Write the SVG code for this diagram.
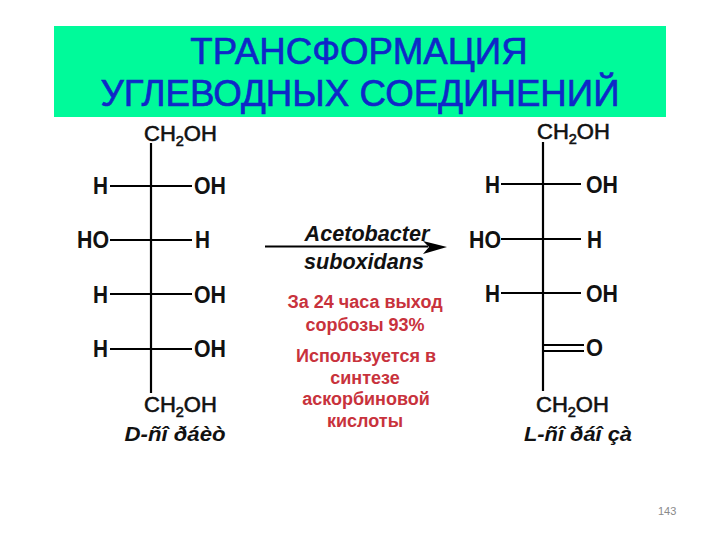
<svg xmlns="http://www.w3.org/2000/svg" width="720" height="540" viewBox="0 0 720 540">
<style>
text{font-family:"Liberation Sans",Arial,sans-serif}
.a{font-size:23px;font-weight:700;fill:#111}
.f{font-size:22px;fill:#111;stroke:#111;stroke-width:.6px}
.s{font-size:14.5px}
.n{font-size:21px;font-weight:700;font-style:italic;fill:#111;text-anchor:middle}
.c{font-size:21.6px;font-weight:700;font-style:italic;fill:#111;text-anchor:middle}
.r{font-size:18px;font-weight:700;fill:#c8323c;text-anchor:middle}
.t{font-size:36.7px;fill:#0f28c8;stroke:#0f28c8;stroke-width:.6px;text-anchor:middle}
line{stroke:#000;stroke-width:2.2}
</style>
<rect width="720" height="540" fill="#fff"/>
<g id="title"><rect x="54" y="26" width="612" height="91" fill="#00fa9a"/>
<text class="t" x="359" y="63.500">ТРАНСФОРМАЦИЯ</text>
<text class="t" x="360" y="105.500">УГЛЕВОДНЫХ СОЕДИНЕНИЙ</text></g>
<g id="connectors">
<line x1="151" y1="143" x2="151" y2="393"/>
<line x1="110" y1="186" x2="192" y2="186"/>
<line x1="110" y1="240" x2="192" y2="240"/>
<line x1="110" y1="294" x2="192" y2="294"/>
<line x1="110" y1="349" x2="192" y2="349"/>
<line x1="543" y1="142" x2="543" y2="391"/>
<line x1="501" y1="184" x2="581" y2="184"/>
<line x1="501" y1="239" x2="581" y2="239"/>
<line x1="501" y1="293" x2="581" y2="293"/>
<line x1="543" y1="345" x2="584" y2="345"/>
<line x1="543" y1="351" x2="584" y2="351"/>
<line x1="265" y1="246.500" x2="428" y2="246.500"/>
<path d="M423 241L447 247L423 254L429 247Z" fill="#000"/>
</g>
<g id="left-molecule">
<text class="f" x="144" y="140.500">CH<tspan class="s" dy="5">2</tspan><tspan dy="-5">OH</tspan></text>
<text class="a" x="93" y="194" textLength="15" lengthAdjust="spacingAndGlyphs">H</text><text class="a" x="194" y="194" textLength="32" lengthAdjust="spacingAndGlyphs">OH</text>
<text class="a" x="77" y="248" textLength="32" lengthAdjust="spacingAndGlyphs">HO</text><text class="a" x="195" y="248" textLength="15" lengthAdjust="spacingAndGlyphs">H</text>
<text class="a" x="93" y="303" textLength="15" lengthAdjust="spacingAndGlyphs">H</text><text class="a" x="194" y="303" textLength="32" lengthAdjust="spacingAndGlyphs">OH</text>
<text class="a" x="93" y="357" textLength="15" lengthAdjust="spacingAndGlyphs">H</text><text class="a" x="194" y="357" textLength="32" lengthAdjust="spacingAndGlyphs">OH</text>
<text class="f" x="144" y="412">CH<tspan class="s" dy="5">2</tspan><tspan dy="-5">OH</tspan></text>
<text class="n" x="175" y="441" textLength="101" lengthAdjust="spacingAndGlyphs">D-ñî ðáèò</text>
</g>
<g id="reaction">
<text class="c" x="367" y="241">Acetobacter</text>
<text class="c" x="364" y="269">suboxidans</text>
<text class="r" x="365" y="308">За 24 часа выход</text>
<text class="r" x="365" y="331">сорбозы 93%</text>
<text class="r" x="366" y="362">Используется в</text>
<text class="r" x="365" y="384">синтезе</text>
<text class="r" x="366" y="405">аскорбиновой</text>
<text class="r" x="365" y="427">кислоты</text>
</g>
<g id="right-molecule">
<text class="f" x="537" y="139">CH<tspan class="s" dy="5">2</tspan><tspan dy="-5">OH</tspan></text>
<text class="a" x="485" y="193" textLength="15" lengthAdjust="spacingAndGlyphs">H</text><text class="a" x="586" y="193" textLength="32" lengthAdjust="spacingAndGlyphs">OH</text>
<text class="a" x="469" y="248" textLength="32" lengthAdjust="spacingAndGlyphs">HO</text><text class="a" x="587" y="248" textLength="15" lengthAdjust="spacingAndGlyphs">H</text>
<text class="a" x="485" y="302" textLength="15" lengthAdjust="spacingAndGlyphs">H</text><text class="a" x="586" y="302" textLength="32" lengthAdjust="spacingAndGlyphs">OH</text>
<text class="a" x="586" y="356" textLength="17" lengthAdjust="spacingAndGlyphs">O</text>
<text class="f" x="536" y="411.500">CH<tspan class="s" dy="5">2</tspan><tspan dy="-5">OH</tspan></text>
<text class="n" x="578" y="441" textLength="108" lengthAdjust="spacingAndGlyphs">L-ñî ðáî çà</text>
</g>
<text id="page" x="658" y="515" font-size="11" fill="#8a8a8a">143</text>
</svg>
